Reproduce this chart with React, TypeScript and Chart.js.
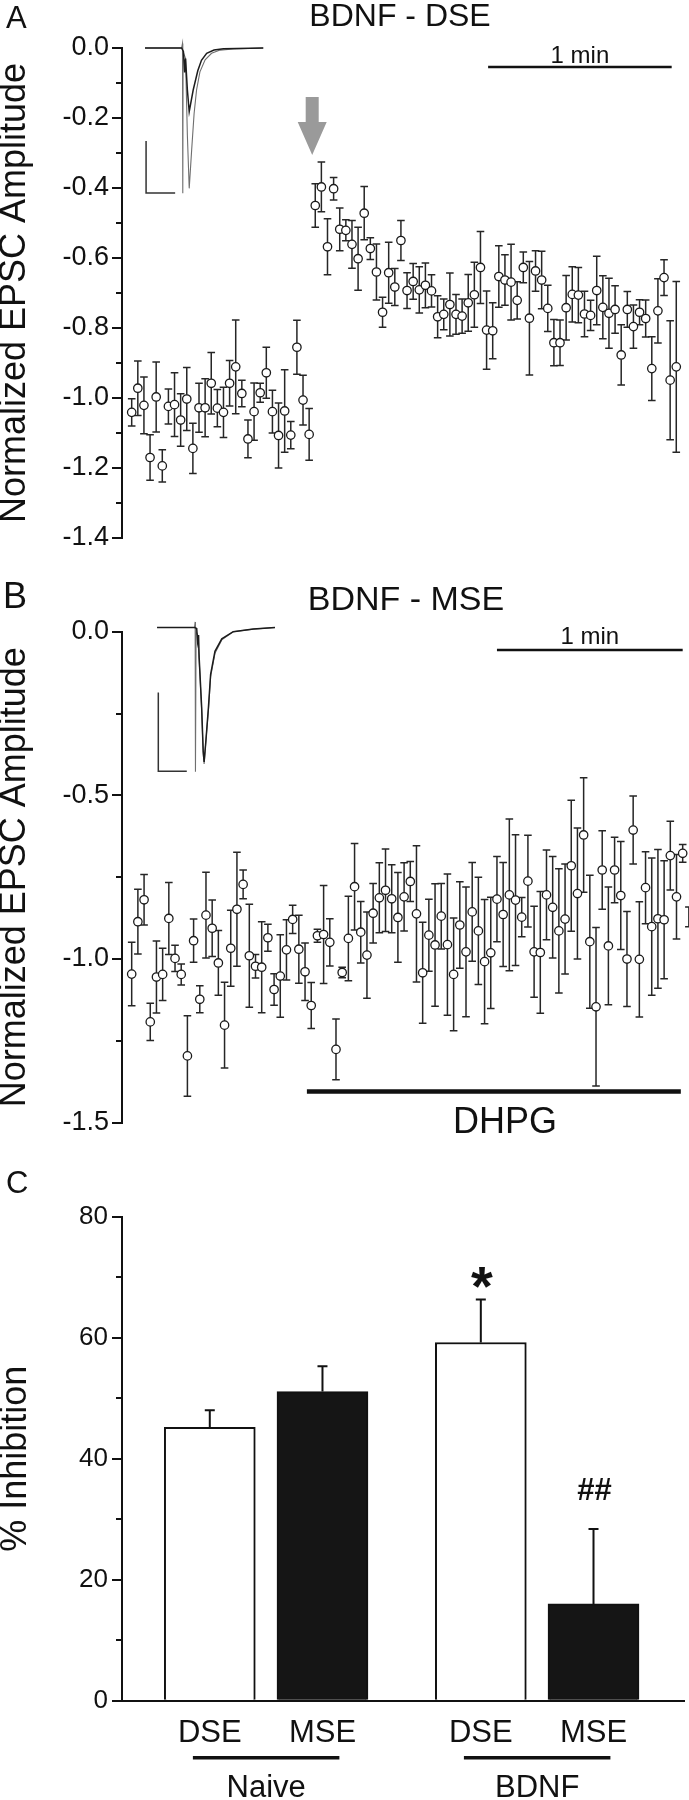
import React, { useEffect, useRef } from 'react';
import { Chart, registerables } from 'chart.js';

Chart.register(...registerables);

const FONT = '"Liberation Sans", Arial, Helvetica, sans-serif';
const INK = '#111111';
const ERR_INK = '#262626';

// ===== Panel A : BDNF - DSE (normalized EPSC amplitude, one sample every 2 s) =====
const aBaseline = [-1.041, -0.972, -1.021, -1.170, -0.997, -1.194, -1.024, -1.019, -1.063, -1.003,
  -1.144, -1.028, -1.028, -0.958, -1.029, -1.041, -0.958, -0.911, -0.987, -1.117,
  -1.039, -0.985, -0.928, -1.039, -1.107, -1.037, -1.106, -0.855, -1.006, -1.104];
const aBaselineSem = [0.039, 0.078, 0.081, 0.065, 0.100, 0.046, 0.050, 0.091, 0.075, 0.090,
  0.072, 0.070, 0.083, 0.088, 0.053, 0.072, 0.065, 0.134, 0.038, 0.054,
  0.082, 0.027, 0.073, 0.061, 0.093, 0.118, 0.039, 0.077, 0.071, 0.074];
const aPost = [-0.450, -0.397, -0.568, -0.402, -0.518, -0.521, -0.561, -0.602, -0.472, -0.573,
  -0.640, -0.755, -0.642, -0.683, -0.550, -0.693, -0.667, -0.691, -0.678, -0.694,
  -0.768, -0.761, -0.733, -0.761, -0.766, -0.728, -0.705, -0.627, -0.806, -0.808,
  -0.653, -0.663, -0.669, -0.721, -0.627, -0.772, -0.637, -0.663, -0.744, -0.842,
  -0.842, -0.742, -0.704, -0.706, -0.760, -0.764, -0.693, -0.741, -0.758, -0.747,
  -0.877, -0.747, -0.796, -0.755, -0.773, -0.916, -0.751, -0.656, -0.949, -0.911];
const aPostSem = [0.062, 0.071, 0.080, 0.032, 0.061, 0.030, 0.068, 0.090, 0.076, 0.031,
  0.080, 0.043, 0.087, 0.053, 0.057, 0.051, 0.051, 0.066, 0.064, 0.046,
  0.060, 0.044, 0.090, 0.057, 0.049, 0.081, 0.093, 0.103, 0.112, 0.080,
  0.088, 0.072, 0.108, 0.053, 0.044, 0.162, 0.058, 0.082, 0.066, 0.066,
  0.065, 0.092, 0.079, 0.079, 0.065, 0.043, 0.098, 0.090, 0.100, 0.068,
  0.086, 0.051, 0.062, 0.036, 0.053, 0.091, 0.092, 0.051, 0.170, 0.244];

// inset EPSC traces of panel A (time in s on the panel axis, amplitude in normalized units)
const aCtrlTraceT = [4.35, 16.3, 16.6, 16.7, 16.8, 17.6, 18.2, 18.8, 19.6, 20.4, 21.2, 22.3, 24.0, 26.1, 28.9, 33.2, 43.0];
const aCtrlTraceV = [0, 0, 0.013, -0.415, -0.01, -0.03, -0.25, -0.401, -0.291, -0.187, -0.12, -0.068, -0.034, -0.015, -0.006, -0.003, 0];
const aDseTraceT = [4.35, 16.3, 16.9, 17.3, 17.6, 18.2, 18.8, 20.1, 21.6, 22.8, 24.5, 26.9, 30.0, 43.0];
const aDseTraceV = [0, 0, -0.01, -0.07, -0.03, -0.12, -0.182, -0.12, -0.065, -0.035, -0.015, -0.006, -0.002, 0];

// ===== Panel B : BDNF - MSE =====
const bValues = [-1.046, -0.886, -0.819, -1.192, -1.055, -1.047, -0.876, -0.998, -1.047, -1.296,
  -0.944, -1.123, -0.866, -0.906, -1.012, -1.202, -0.967, -0.848, -0.772, -0.990,
  -1.022, -1.025, -0.935, -1.093, -1.052, -0.972, -0.879, -0.970, -1.039, -1.142,
  -0.929, -0.925, -0.949, -1.276, -1.041, -0.937, -0.779, -0.918, -0.988, -0.860,
  -0.813, -0.790, -0.816, -0.873, -0.810, -0.763, -0.862, -1.042, -0.927, -0.957,
  -0.869, -0.956, -1.047, -0.896, -0.978, -0.856, -0.914, -1.008, -0.981, -0.817,
  -0.864, -0.804, -0.820, -0.872, -0.762, -0.978, -0.980, -0.804, -0.842, -0.914,
  -0.878, -0.715, -0.800, -0.621, -0.947, -1.146, -0.728, -0.960, -0.728, -0.806,
  -1.000, -0.606, -1.001, -0.782, -0.901, -0.877, -0.880, -0.684, -0.810, -0.677,
  -0.871];
const bSem = [0.097, 0.099, 0.077, 0.057, 0.110, 0.080, 0.110, 0.040, 0.032, 0.123,
  0.066, 0.041, 0.131, 0.086, 0.099, 0.131, 0.116, 0.174, 0.044, 0.157,
  0.036, 0.139, 0.041, 0.048, 0.126, 0.092, 0.043, 0.104, 0.088, 0.070,
  0.020, 0.150, 0.072, 0.093, 0.016, 0.129, 0.132, 0.094, 0.132, 0.091,
  0.107, 0.126, 0.104, 0.137, 0.104, 0.061, 0.208, 0.154, 0.110, 0.187,
  0.100, 0.216, 0.172, 0.132, 0.198, 0.151, 0.164, 0.190, 0.170, 0.130,
  0.159, 0.232, 0.200, 0.060, 0.140, 0.139, 0.186, 0.137, 0.155, 0.190,
  0.168, 0.200, 0.200, 0.175, 0.203, 0.242, 0.120, 0.180, 0.100, 0.165,
  0.145, 0.104, 0.176, 0.110, 0.210, 0.212, 0.180, 0.105, 0.129, 0.027,
  0.030];

const bCtrlTraceT = [8.2, 20.3, 20.5, 20.6, 20.8, 21.3, 21.8, 22.6, 23.1, 23.4, 24.0, 24.8, 25.5, 26.9, 29.1, 32.8, 39.3, 46.3];
const bCtrlTraceV = [0.013, 0.013, 0.03, -0.428, 0.0, -0.01, -0.087, -0.239, -0.371, -0.404, -0.33, -0.239, -0.137, -0.066, -0.025, 0, 0.008, 0.013];
const bMseTraceT = [8.2, 20.3, 21.0, 21.3, 21.6, 21.8, 22.6, 23.1, 23.4, 24.0, 24.8, 25.5, 26.9, 29.1, 32.8, 39.3, 46.3];
const bMseTraceV = [0.013, 0.013, 0.01, -0.03, -0.01, -0.08, -0.23, -0.365, -0.398, -0.33, -0.23, -0.13, -0.06, -0.022, 0, 0.008, 0.013];

// ===== Panel C : % inhibition =====
const cCategories = ['DSE', 'MSE', 'DSE', 'MSE'];
const cGroups = ['Naive', 'BDNF'];
const cGroupOf = [0, 0, 1, 1];
const cValues = [45.2, 51.1, 59.2, 16.0];
const cSem = [2.8, 4.2, 7.1, 12.4];
const cMarks = ['', '', '*', '##'];

const SAMPLE_S = 2;

type Pt = { x: number; y: number };
const zip = (t: number[], v: number[]): Pt[] => t.map((x, i) => ({ x, y: v[i] }));

function text(ctx: CanvasRenderingContext2D, s: string, x: number, y: number, font: string, align: CanvasTextAlign = 'left') {
  ctx.save();
  ctx.font = font;
  ctx.fillStyle = INK;
  ctx.textAlign = align;
  ctx.textBaseline = 'alphabetic';
  ctx.fillText(s, x, y);
  ctx.restore();
}

interface TimeCfg {
  times: number[];
  values: number[];
  sem: number[];
  traces: { pts: Pt[]; color: string; width: number }[];
  bars: { pts: Pt[]; color: string; width: number }[];
  xMin: number; xMax: number;
  yMin: number; yMax: number; yStep: number; yMinor: number[];
  padTop: number; padBottom: number;
  decorate: (chart: any) => void;
}

function yAxisBase(title: string, tickSize: number, titlePad: number) {
  return {
    afterFit: (s: any) => { s.width = 122; },
    ticks: { font: { family: FONT, size: tickSize }, color: INK, padding: 3 },
    grid: { drawOnChartArea: false, drawTicks: true, tickLength: 10, tickWidth: 2, tickColor: INK, lineWidth: 2, color: INK },
    border: { display: true, width: 2, color: INK },
    title: { display: true, text: title, color: INK, font: { family: FONT, size: 36, lineHeight: 0.8 }, padding: { top: titlePad, bottom: 0 } },
  };
}

function minorTicks(chart: any, values: number[]) {
  const ctx = chart.ctx as CanvasRenderingContext2D;
  const ys = chart.scales.y;
  const x = chart.chartArea.left - 1;
  ctx.save();
  ctx.strokeStyle = INK;
  ctx.lineWidth = 2;
  values.forEach((v) => {
    const y = Math.round(ys.getPixelForValue(v));
    ctx.beginPath();
    ctx.moveTo(x - 5, y);
    ctx.lineTo(x, y);
    ctx.stroke();
  });
  ctx.restore();
}

function makeTimeCourse(canvas: HTMLCanvasElement, c: TimeCfg) {
  const datasets: any[] = [
    {
      data: zip(c.times, c.values), showLine: false, pointRadius: 4.2, pointHoverRadius: 4.2,
      pointBorderWidth: 1.3, pointBackgroundColor: '#ffffff', pointBorderColor: '#1a1a1a', clip: false,
    },
    ...c.traces.map((tr) => ({ data: tr.pts, showLine: true, pointRadius: 0, borderColor: tr.color, borderWidth: tr.width, fill: false, tension: 0, clip: false })),
    ...c.bars.map((b) => ({ data: b.pts, showLine: true, pointRadius: 0, borderColor: b.color, borderWidth: b.width, fill: false, tension: 0, clip: false, borderCapStyle: 'butt' })),
  ];
  const errPlugin = {
    id: 'semBars',
    beforeDatasetsDraw(chart: any) {
      const ctx = chart.ctx as CanvasRenderingContext2D;
      const xs = chart.scales.x, ys = chart.scales.y;
      ctx.save();
      ctx.strokeStyle = ERR_INK;
      ctx.lineWidth = 1.5;
      c.times.forEach((t, i) => {
        const px = xs.getPixelForValue(t);
        const y1 = ys.getPixelForValue(c.values[i] + c.sem[i]);
        const y2 = ys.getPixelForValue(c.values[i] - c.sem[i]);
        ctx.beginPath();
        ctx.moveTo(px, y1); ctx.lineTo(px, y2);
        ctx.moveTo(px - 3.8, y1); ctx.lineTo(px + 3.8, y1);
        ctx.moveTo(px - 3.8, y2); ctx.lineTo(px + 3.8, y2);
        ctx.stroke();
      });
      ctx.restore();
    },
  };
  const decorPlugin = {
    id: 'decor',
    afterDraw(chart: any) {
      minorTicks(chart, c.yMinor);
      c.decorate(chart);
    },
  };
  return new Chart(canvas, {
    type: 'scatter',
    data: { datasets },
    options: {
      responsive: false, animation: false, devicePixelRatio: 1,
      layout: { padding: { top: c.padTop, bottom: c.padBottom, left: 0, right: 6 } },
      plugins: { legend: { display: false }, tooltip: { enabled: false } },
      events: [],
      scales: {
        x: { type: 'linear', display: false, min: c.xMin, max: c.xMax },
        y: {
          ...yAxisBase('Normalized EPSC Amplitude', 27, 0.5),
          type: 'linear', min: c.yMin, max: c.yMax,
          ticks: { stepSize: c.yStep, callback: (v: any) => Number(v).toFixed(1), font: { family: FONT, size: 27 }, color: INK, padding: 3 },
        },
      },
    } as any,
    plugins: [errPlugin, decorPlugin],
  });
}

function makeA(canvas: HTMLCanvasElement) {
  const times = [...aBaseline.map((_, i) => i * SAMPLE_S), ...aPost.map((_, k) => (aBaseline.length + k) * SAMPLE_S)];
  const barY = -0.054;
  return makeTimeCourse(canvas, {
    times,
    values: [...aBaseline, ...aPost],
    sem: [...aBaselineSem, ...aPostSem],
    traces: [
      { pts: zip(aDseTraceT, aDseTraceV), color: '#1c1c1c', width: 1.5 },
      { pts: zip(aCtrlTraceT, aCtrlTraceV), color: '#6f6f6f', width: 1.1 },
    ],
    bars: [
      { pts: [{ x: 4.7, y: -0.266 }, { x: 4.7, y: -0.414 }, { x: 14.2, y: -0.414 }], color: '#333333', width: 1.5 },
      { pts: [{ x: 116.5, y: barY }, { x: 176.5, y: barY }], color: INK, width: 2.5 },
    ],
    xMin: -3.17, xMax: 180.2,
    yMin: -1.4, yMax: 0, yStep: 0.2, yMinor: [-0.1, -0.3, -0.5, -0.7, -0.9, -1.1, -1.3],
    padTop: 48, padBottom: 32,
    decorate(chart: any) {
      const ctx = chart.ctx as CanvasRenderingContext2D;
      const xs = chart.scales.x, ys = chart.scales.y;
      text(ctx, 'A', 6, 27.5, `31px ${FONT}`);
      text(ctx, 'BDNF - DSE', 400, 26, `32px ${FONT}`, 'center');
      text(ctx, '1 min', xs.getPixelForValue(146.5), ys.getPixelForValue(barY) - 4, `24px ${FONT}`, 'center');
      // grey arrow marking the depolarization
      const ax = xs.getPixelForValue(59);
      const tip = ys.getPixelForValue(-0.306);
      ctx.save();
      ctx.fillStyle = '#9a9a9a';
      ctx.beginPath();
      ctx.moveTo(ax - 6.5, tip - 58);
      ctx.lineTo(ax + 6.5, tip - 58);
      ctx.lineTo(ax + 6.5, tip - 33);
      ctx.lineTo(ax + 14.5, tip - 33);
      ctx.lineTo(ax, tip);
      ctx.lineTo(ax - 14.5, tip - 33);
      ctx.lineTo(ax - 6.5, tip - 33);
      ctx.closePath();
      ctx.fill();
      ctx.restore();
    },
  });
}

function makeB(canvas: HTMLCanvasElement) {
  const times = bValues.map((_, i) => i * SAMPLE_S);
  const barY = -0.056;
  const dhpgY = -1.405;
  return makeTimeCourse(canvas, {
    times,
    values: bValues,
    sem: bSem,
    traces: [
      { pts: zip(bMseTraceT, bMseTraceV), color: '#1c1c1c', width: 1.5 },
      { pts: zip(bCtrlTraceT, bCtrlTraceV), color: '#6f6f6f', width: 1.1 },
    ],
    bars: [
      { pts: [{ x: 8.6, y: -0.186 }, { x: 8.6, y: -0.426 }, { x: 17.8, y: -0.426 }], color: '#333333', width: 1.5 },
      { pts: [{ x: 118, y: barY }, { x: 178, y: barY }], color: INK, width: 2.5 },
      { pts: [{ x: 56.6, y: dhpgY }, { x: 177.4, y: dhpgY }], color: INK, width: 4.5 },
    ],
    xMin: -3.13, xMax: 178.1,
    yMin: -1.5, yMax: 0, yStep: 0.5, yMinor: [-0.25, -0.75, -1.25],
    padTop: 61.7, padBottom: 27.3,
    decorate(chart: any) {
      const ctx = chart.ctx as CanvasRenderingContext2D;
      const xs = chart.scales.x, ys = chart.scales.y;
      text(ctx, 'B', 3, 38.3, `36px ${FONT}`);
      text(ctx, 'BDNF - MSE', 406, 40, `34px ${FONT}`, 'center');
      text(ctx, '1 min', xs.getPixelForValue(148), ys.getPixelForValue(barY) - 6, `24px ${FONT}`, 'center');
      text(ctx, 'DHPG', xs.getPixelForValue(120.6), ys.getPixelForValue(dhpgY) + 41, `36px ${FONT}`, 'center');
    },
  });
}

function makeC(canvas: HTMLCanvasElement) {
  const GROUP_GAP = 0.405;
  const xs = cCategories.map((_, i) => 1 + i + cGroupOf[i] * GROUP_GAP);
  const fills = cCategories.map((c) => (c === 'DSE' ? '#ffffff' : '#151515'));
  const annot = {
    id: 'cDecor',
    afterDatasetsDraw(chart: any) {
      const ctx = chart.ctx as CanvasRenderingContext2D;
      const sx = chart.scales.x, sy = chart.scales.y;
      ctx.save();
      ctx.strokeStyle = INK;
      ctx.lineWidth = 2;
      xs.forEach((x, i) => {
        const px = sx.getPixelForValue(x);
        const top = sy.getPixelForValue(cValues[i]);
        const end = sy.getPixelForValue(cValues[i] + cSem[i]);
        ctx.beginPath();
        ctx.moveTo(px, top); ctx.lineTo(px, end);
        ctx.moveTo(px - 5, end); ctx.lineTo(px + 5, end);
        ctx.stroke();
        if (cMarks[i] === '*') text(ctx, '*', px + 1, end + 5, `bold 56px ${FONT}`, 'center');
        if (cMarks[i] === '##') text(ctx, '##', px + 1, end - 28.5, `bold 31px ${FONT}`, 'center');
      });
      ctx.restore();
    },
    afterDraw(chart: any) {
      const ctx = chart.ctx as CanvasRenderingContext2D;
      const sx = chart.scales.x;
      minorTicks(chart, [10, 30, 50, 70]);
      text(ctx, 'C', 6, 43.3, `31px ${FONT}`);
      cGroups.forEach((g, gi) => {
        const members = xs.filter((_, i) => cGroupOf[i] === gi);
        const x1 = sx.getPixelForValue(Math.min(...members) - 0.15);
        const x2 = sx.getPixelForValue(Math.max(...members) + 0.15);
        const y = chart.chartArea.bottom + 57;
        ctx.save();
        ctx.strokeStyle = INK;
        ctx.lineWidth = 3.5;
        ctx.beginPath();
        ctx.moveTo(x1, y); ctx.lineTo(x2, y);
        ctx.stroke();
        ctx.restore();
        text(ctx, g, (x1 + x2) / 2, y + 39.5, `31px ${FONT}`, 'center');
      });
    },
  };
  return new Chart(canvas, {
    type: 'bar',
    data: {
      datasets: [{
        data: xs.map((x, i) => ({ x, y: cValues[i] })),
        backgroundColor: fills, borderColor: INK, borderWidth: 2, barThickness: 91, borderSkipped: 'bottom',
      }],
    },
    options: {
      responsive: false, animation: false, devicePixelRatio: 1, events: [],
      layout: { padding: { top: 66.7, bottom: 0, left: 0, right: 5 } },
      plugins: { legend: { display: false }, tooltip: { enabled: false } },
      scales: {
        x: {
          type: 'linear', min: 0.221, max: 5.208, offset: false,
          afterFit: (s: any) => { s.height = 99.3; },
          afterBuildTicks: (s: any) => { s.ticks = xs.map((v) => ({ value: v })); },
          ticks: { autoSkip: false, maxRotation: 0, callback: (_v: any, i: number) => cCategories[i], font: { family: FONT, size: 31 }, color: INK, padding: 14 },
          grid: { display: true, offset: false, drawOnChartArea: false, drawTicks: false },
          border: { display: true, width: 2, color: INK },
        },
        y: {
          ...yAxisBase('% Inhibition', 26, 2),
          type: 'linear', min: 0, max: 80,
          ticks: { stepSize: 20, font: { family: FONT, size: 26 }, color: INK, padding: 4 },
        },
      },
    } as any,
    plugins: [annot],
  });
}

export default function App() {
  const aRef = useRef<HTMLCanvasElement>(null);
  const bRef = useRef<HTMLCanvasElement>(null);
  const cRef = useRef<HTMLCanvasElement>(null);
  useEffect(() => {
    const charts = [makeA(aRef.current!), makeB(bRef.current!), makeC(cRef.current!)];
    return () => charts.forEach((ch) => ch.destroy());
  }, []);
  const cv = (top: number, h: number): React.CSSProperties => ({ position: 'absolute', left: 0, top, width: 689, height: h, display: 'block' });
  return (
    <div style={{ position: 'absolute', left: 0, top: 0, width: 689, height: 1800, background: '#ffffff', overflow: 'hidden' }}>
      <canvas ref={aRef} width={689} height={570} style={cv(0, 570)} />
      <canvas ref={bRef} width={689} height={580} style={cv(570, 580)} />
      <canvas ref={cRef} width={689} height={650} style={cv(1150, 650)} />
    </div>
  );
}
